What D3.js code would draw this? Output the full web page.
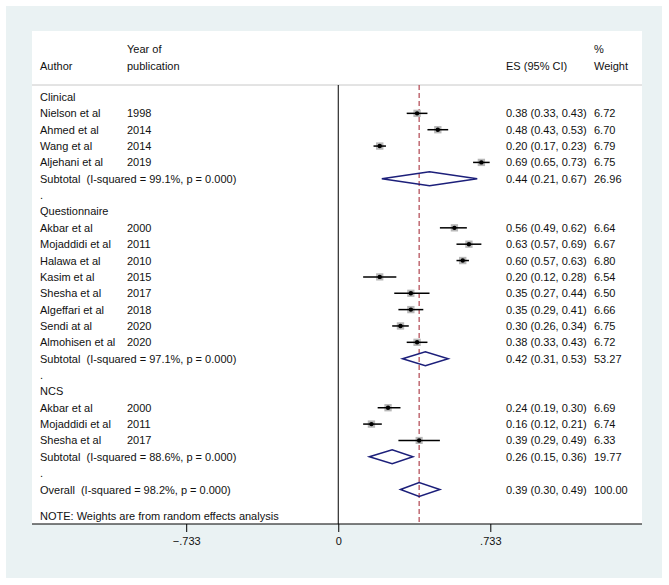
<!DOCTYPE html>
<html>
<head>
<meta charset="utf-8">
<script src="https://cdn.jsdelivr.net/npm/d3@7"></script>
<style>
  body { margin: 0; background: #fff; }
  svg text { font-family: "Liberation Sans", Arial, sans-serif; font-size: 11px; fill: #111; white-space: pre; }
</style>
</head>
<body>
<svg id="chart"></svg>
<script>
// study rows
const groups = ["Clinical", "Questionnaire", "NCS"];
const authors = [
  ["Nielson et al", "Ahmed et al", "Wang et al", "Aljehani et al"],
  ["Akbar et al", "Mojaddidi et al", "Halawa et al", "Kasim et al", "Shesha et al", "Algeffari et al", "Sendi at al", "Almohisen et al"],
  ["Akbar et al", "Mojaddidi et al", "Shesha et al"],
];
const years = [
  ["1998", "2014", "2014", "2019"],
  ["2000", "2011", "2010", "2015", "2017", "2018", "2020", "2020"],
  ["2000", "2011", "2017"],
];
const es = [
  [0.38, 0.48, 0.20, 0.69],
  [0.56, 0.63, 0.60, 0.20, 0.35, 0.35, 0.30, 0.38],
  [0.24, 0.16, 0.39],
];
const lo = [
  [0.33, 0.43, 0.17, 0.65],
  [0.49, 0.57, 0.57, 0.12, 0.27, 0.29, 0.26, 0.33],
  [0.19, 0.12, 0.29],
];
const hi = [
  [0.43, 0.53, 0.23, 0.73],
  [0.62, 0.69, 0.63, 0.28, 0.44, 0.41, 0.34, 0.43],
  [0.30, 0.21, 0.49],
];
const weights = [
  [6.72, 6.70, 6.79, 6.75],
  [6.64, 6.67, 6.80, 6.54, 6.50, 6.66, 6.75, 6.72],
  [6.69, 6.74, 6.33],
];
// subtotals
const subI2 = ["99.1%", "97.1%", "88.6%"];
const subEs = [0.44, 0.42, 0.26];
const subLo = [0.21, 0.31, 0.15];
const subHi = [0.67, 0.53, 0.36];
const subW = [26.96, 53.27, 19.77];
// overall
const overall = { i2: "98.2%", es: 0.39, lo: 0.30, hi: 0.49, w: 100.00 };
const xTicks = [-0.733, 0, 0.733];

const W = 669, H = 585;
const svg = d3.select("#chart").attr("width", W).attr("height", H);

svg.append("rect").attr("x", 6).attr("y", 6).attr("width", 656).attr("height", 572).attr("fill", "#eaf2f3");
const plot = { l: 32, t: 31, r: 642, b: 524 };
svg.append("rect").attr("x", plot.l).attr("y", plot.t)
  .attr("width", plot.r - plot.l).attr("height", plot.b - plot.t).attr("fill", "#fff");

// build row list
const rows = [];
groups.forEach((g, gi) => {
  rows.push({ type: "head", label: g });
  authors[gi].forEach((a, i) => rows.push({
    type: "study", author: a, year: years[gi][i], es: es[gi][i], lo: lo[gi][i], hi: hi[gi][i], w: weights[gi][i]
  }));
  rows.push({ type: "sub", label: `Subtotal  (I-squared = ${subI2[gi]}, p = 0.000)`, es: subEs[gi], lo: subLo[gi], hi: subHi[gi], w: subW[gi] });
  rows.push({ type: "dot" });
});
rows.push({ type: "sub", label: `Overall  (I-squared = ${overall.i2}, p = 0.000)`, es: overall.es, lo: overall.lo, hi: overall.hi, w: overall.w });

const x = d3.scaleLinear().domain([-0.733, 0.733]).range([186.2, 490.3]);
const y = d3.scaleLinear().domain([0, rows.length - 1]).range([97, 489.5]);

const colAuthor = 40, colYear = 127, colEs = 506, colW = 594;
const f2 = d3.format(".2f");

// header
svg.append("text").attr("x", colYear).attr("y", 53).text("Year of");
svg.append("text").attr("x", colAuthor).attr("y", 70).text("Author");
svg.append("text").attr("x", colYear).attr("y", 70).text("publication");
svg.append("text").attr("x", colEs).attr("y", 70).text("ES (95% CI)");
svg.append("text").attr("x", colW).attr("y", 53).text("%");
svg.append("text").attr("x", colW).attr("y", 70).text("Weight");
svg.append("line").attr("x1", plot.l).attr("x2", plot.r).attr("y1", 85).attr("y2", 85)
  .attr("stroke", "#c8c8c8").attr("stroke-width", 1);

// zero line
svg.append("line").attr("x1", x(0)).attr("x2", x(0)).attr("y1", 85).attr("y2", plot.b)
  .attr("stroke", "#000").attr("stroke-width", 1);
// overall dashed line
svg.append("line").attr("x1", x(overall.es)).attr("x2", x(overall.es)).attr("y1", 85).attr("y2", plot.b)
  .attr("stroke", "#b0454f").attr("stroke-width", 1.2).attr("stroke-dasharray", "5,3");

const box = d3.scaleSqrt().domain([0, 7]).range([0, 7.5]);

rows.forEach((r, i) => {
  const cy = y(i);
  const ty = cy + 4;
  if (r.type === "head") {
    svg.append("text").attr("x", colAuthor).attr("y", ty).text(r.label);
  } else if (r.type === "dot") {
    svg.append("text").attr("x", colAuthor).attr("y", ty).text(".");
  } else if (r.type === "study") {
    svg.append("text").attr("x", colAuthor).attr("y", ty).text(r.author);
    svg.append("text").attr("x", colYear).attr("y", ty).text(r.year);
    const s = box(r.w);
    svg.append("rect").attr("x", x(r.es) - s / 2).attr("y", cy - s / 2).attr("width", s).attr("height", s).attr("fill", "#b8b8b8");
    svg.append("line").attr("x1", x(r.lo)).attr("x2", x(r.hi)).attr("y1", cy).attr("y2", cy)
      .attr("stroke", "#000").attr("stroke-width", 1.5);
    svg.append("circle").attr("cx", x(r.es)).attr("cy", cy).attr("r", 2.2).attr("fill", "#000");
    svg.append("text").attr("x", colEs).attr("y", ty).text(`${f2(r.es)} (${f2(r.lo)}, ${f2(r.hi)})`);
    svg.append("text").attr("x", colW).attr("y", ty).text(f2(r.w));
  } else if (r.type === "sub") {
    svg.append("text").attr("x", colAuthor).attr("y", ty).text(r.label);
    const pts = [[x(r.lo), cy], [x(r.es), cy - 7], [x(r.hi), cy], [x(r.es), cy + 7]];
    svg.append("polygon").attr("points", pts.map(p => p.join(",")).join(" "))
      .attr("fill", "none").attr("stroke", "#1c1f7a").attr("stroke-width", 1.5);
    svg.append("text").attr("x", colEs).attr("y", ty).text(`${f2(r.es)} (${f2(r.lo)}, ${f2(r.hi)})`);
    svg.append("text").attr("x", colW).attr("y", ty).text(f2(r.w));
  }
});

// note
svg.append("text").attr("x", colAuthor).attr("y", 520).text("NOTE: Weights are from random effects analysis");

// axis
const axis = d3.axisBottom(x).tickValues(xTicks).tickSize(8).tickPadding(5)
  .tickFormat(d => d === 0 ? "0" : d3.format(".3f")(d).replace("0.", "."));
const ag = svg.append("g").attr("transform", `translate(0,${plot.b})`).call(axis);
ag.select(".domain").remove();
ag.selectAll(".tick line").attr("stroke", "#000");
ag.selectAll(".tick text").attr("fill", "#111").style("font-size", "11px");
svg.append("line").attr("x1", plot.l).attr("x2", plot.r).attr("y1", plot.b).attr("y2", plot.b)
  .attr("stroke", "#000").attr("stroke-width", 1.2);
</script>
</body>
</html>
